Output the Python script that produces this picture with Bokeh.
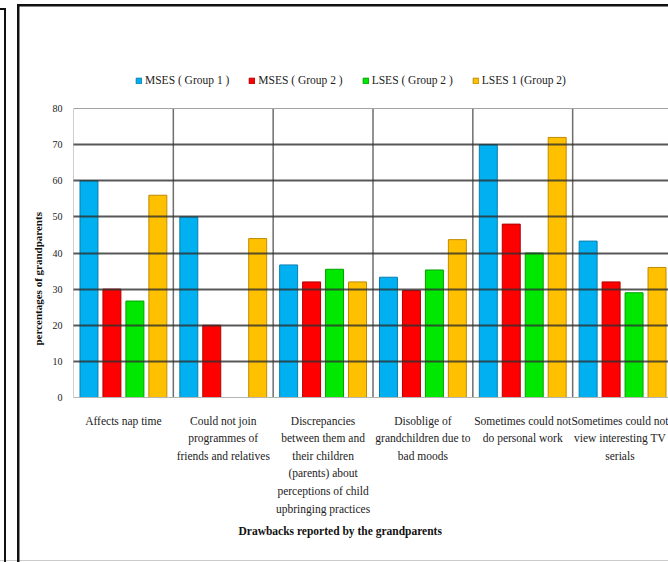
import numpy as np
from bokeh.plotting import figure
from bokeh.models import (Range1d, FixedTicker, Legend, LegendItem, Title,
                          ColumnDataSource)
from bokeh.embed import file_html
from bokeh.resources import INLINE

# ---------------- data ----------------
categories = [
    ["Affects nap time"],
    ["Could not join", "programmes of", "friends and relatives"],
    ["Discrepancies", "between them and", "their children", "(parents) about",
     "perceptions of child", "upbringing practices"],
    ["Disoblige of", "grandchildren due to", "bad moods"],
    ["Sometimes could not", "do personal work"],
    ["Sometimes could not", "view interesting TV", "serials"],
]
series_names = ["MSES ( Group 1 )", "MSES ( Group 2 )", "LSES ( Group 2 )", "LSES 1 (Group 2)"]
mses_g1 = [60, 50, 36.7, 33.3, 70, 43.3]
mses_g2 = [30, 20, 32, 29.6, 48, 32]
lses_g2 = [26.7, 0, 35.5, 35.3, 40, 29]
lses1_g2 = [56, 44, 32, 43.7, 72, 36]
y_ticks = [0, 10, 20, 30, 40, 50, 60, 70, 80]

series = [mses_g1, mses_g2, lses_g2, lses1_g2]
colors = ["#00B0F0", "#FF0000", "#00E800", "#FFC000"]
edges = ["#0a7fb0", "#b00000", "#00a000", "#c08a00"]
offsets = [-0.345, -0.115, 0.115, 0.345]

SERIF = "Liberation Serif"
n = len(categories)
y_max = y_ticks[-1]

# the frame reaches above the 0-80 value area so the legend can sit inside it
p = figure(width=668, height=562, output_backend="svg", toolbar_location=None,
           x_range=Range1d(0, 5.96), y_range=Range1d(0, 93.3),
           min_border_left=73, min_border_right=0, min_border_top=60,
           min_border_bottom=165)
p.background_fill_color = "white"
p.border_fill_alpha = 0
p.outline_line_color = None

# page frame lines behind the (transparent) border area
p.styles = {
    "background-color": "white",
    "background-image": ", ".join(["linear-gradient(#111111, #111111)"] * 4
                                  + ["linear-gradient(#cccccc, #cccccc)"]),
    "background-size": "2px 553px, 2.5px 558px, 651px 2.5px, 6px 2px, 668px 1px",
    "background-position": "4px 9px, 17px 4px, 17px 4px, 0px 8px, 0px 560px",
    "background-repeat": "no-repeat",
}

items = []
for vals, name, c, e, off in zip(series, series_names, colors, edges, offsets):
    src = ColumnDataSource(dict(x=np.arange(n) + 0.5 + off, top=vals))
    r = p.vbar(x="x", top="top", width=0.18, source=src, fill_color=c,
               line_color=e, line_width=1)
    items.append(LegendItem(label=name, renderers=[r]))

# horizontal grid lines drawn over the bars, as in the reference
p.ygrid.ticker = FixedTicker(ticks=y_ticks[1:-1])
p.ygrid.grid_line_color = "#2e2e2e"
p.ygrid.grid_line_width = 2
p.ygrid.grid_line_alpha = 0.8
p.ygrid.level = "overlay"
p.xgrid.visible = False

# plot-area edges and category separators (0..80 only)
bounds = np.arange(n + 1)
p.segment(x0=bounds[1:-1], y0=0, x1=bounds[1:-1], y1=y_max,
          line_color="#6e6e6e", line_width=1.5)
p.segment(x0=[0, 0], y0=[0, y_max], x1=[0, n], y1=[y_max, y_max],
          line_color="#a0a0a0", line_width=1)

# y axis
p.yaxis.ticker = FixedTicker(ticks=y_ticks)
p.yaxis.axis_line_color = None
p.yaxis.major_tick_line_color = None
p.yaxis.minor_tick_line_color = None
p.yaxis.major_label_standoff = 5
p.yaxis.major_label_text_font = SERIF
p.yaxis.major_label_text_font_size = "10px"
p.yaxis.major_label_text_color = "#222222"

# y axis title, centred on the 0-80 value area (bottom-anchored with an offset)
p.add_layout(Title(text="percentages of grandparents", align="left", offset=52,
                   text_font=SERIF, text_font_size="11px", text_font_style="bold",
                   text_color="#111111", standoff=12), "left")

# x axis with multi-line category labels
p.xaxis.ticker = FixedTicker(ticks=[i + 0.5 for i in range(n)])
p.xaxis.major_label_overrides = {i + 0.5: "\n".join(c) for i, c in enumerate(categories)}
p.xaxis.axis_line_color = "#b5b5b5"
p.xaxis.major_tick_line_color = None
p.xaxis.minor_tick_line_color = None
p.xaxis.major_label_standoff = 11
p.xaxis.major_label_text_font = SERIF
p.xaxis.major_label_text_font_size = "11.5px"
p.xaxis.major_label_text_color = "#222222"
p.xaxis.major_label_text_line_height = 1.47

# x axis title (placed below the tick labels, left-aligned with an offset)
p.add_layout(Title(text="Drawbacks reported by the grandparents", align="left",
                   offset=165, text_font=SERIF, text_font_size="11.5px",
                   text_font_style="bold", text_color="#111111", standoff=10), "below")

# legend at the top of the frame
legend = Legend(items=items, orientation="horizontal", location=(62, 311),
                border_line_color=None, background_fill_alpha=0,
                glyph_width=7, glyph_height=7, label_standoff=3, spacing=19,
                padding=0, margin=0, label_text_font=SERIF,
                label_text_font_size="11.5px", label_text_color="#222222")
p.add_layout(legend, "center")

open("out.html", "w").write(file_html(p, INLINE))
